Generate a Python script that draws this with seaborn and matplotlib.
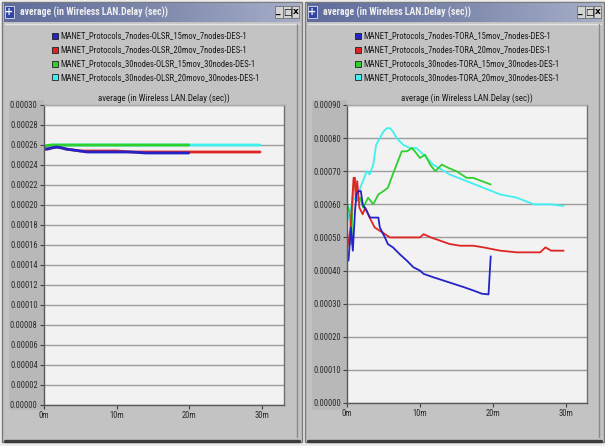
import numpy as np
import pandas as pd
import matplotlib
matplotlib.use("Agg")
import matplotlib.pyplot as plt
import seaborn as sns
from matplotlib import font_manager as fm
from matplotlib.patches import Rectangle
from matplotlib.ticker import FuncFormatter, MultipleLocator

sns.set_style("white")

# pick a narrow sans if one is installed (the OPNET screenshot font is condensed)
_fonts = [(f.name, f.stretch) for f in fm.fontManager.ttflist]
_names = {n for n, _ in _fonts}
narrow_family, narrow_stretch = "Liberation Sans", "normal"
for cand in ["Liberation Sans Narrow", "Roboto Condensed", "Open Sans Condensed"]:
    if cand in _names:
        narrow_family = cand
        break
else:
    for fam in ["Noto Sans", "DejaVu Sans", "Open Sans", "Roboto"]:
        if any(n == fam and s in ("condensed", "semi-condensed", "extra-condensed", 75, 87)
               for n, s in _fonts):
            narrow_family, narrow_stretch = fam, "condensed"
            break
plt.rcParams["font.family"] = [narrow_family, "Liberation Sans", "DejaVu Sans"]
plt.rcParams["font.stretch"] = narrow_stretch

# ---- data (time in minutes, delay in seconds) ----
win_title = "average (in Wireless LAN.Delay (sec))"
chart_title = "average (in Wireless LAN.Delay (sec))"
x_ticks = [0, 10, 20, 30]
x_tick_labels = ["0m", "10m", "20m", "30m"]

olsr_labels = [
    "MANET_Protocols_7nodes-OLSR_15mov_7nodes-DES-1",
    "MANET_Protocols_7nodes-OLSR_20mov_7nodes-DES-1",
    "MANET_Protocols_30nodes-OLSR_15mov_30nodes-DES-1",
    "MANET_Protocols_30nodes-OLSR_20movo_30nodes-DES-1",
]
tora_labels = [
    "MANET_Protocols_7nodes-TORA_15mov_7nodes-DES-1",
    "MANET_Protocols_7nodes-TORA_20mov_7nodes-DES-1",
    "MANET_Protocols_30nodes-TORA_15mov_30nodes-DES-1",
    "MANET_Protocols_30nodes-TORA_20mov_30nodes-DES-1",
]
colors = ["#2323c8", "#e02424", "#2ed02e", "#3ef0f0"]

olsr_blue_t = [0, 0.5, 1, 1.75, 2.5, 3, 4, 5, 5.9, 8, 10, 12, 14, 16, 18, 19.9]
olsr_blue_v = [0.000256, 0.000256, 0.000257, 0.000258, 0.000257, 0.000256, 0.000255,
               0.000254, 0.000253, 0.000253, 0.000253, 0.000253, 0.000252, 0.000252,
               0.000252, 0.000252]
olsr_red_t = [0, 0.5, 1, 1.75, 2.5, 3, 4, 5, 5.9, 8, 10, 12, 14, 16, 18, 20, 22, 25, 28, 29.7]
olsr_red_v = [0.000256, 0.000256, 0.000257, 0.000258, 0.000257, 0.000256, 0.000255,
              0.000254, 0.000254, 0.000254, 0.000254, 0.000253, 0.000253, 0.000253,
              0.000253, 0.000253, 0.000253, 0.000253, 0.000253, 0.000253]
olsr_green_t = [0, 1, 5, 10, 15, 19.9]
olsr_green_v = [0.000259, 0.00026, 0.00026, 0.00026, 0.00026, 0.00026]
olsr_cyan_t = [0, 1, 5, 10, 15, 20, 25, 29.7]
olsr_cyan_v = [0.000258, 0.00026, 0.00026, 0.00026, 0.00026, 0.00026, 0.00026, 0.00026]

tora_blue_t = [0.2, 0.55, 0.8, 1.1, 1.3, 1.55, 1.9, 2.15, 2.7, 3.15, 4.3, 4.5, 5.2, 5.6,
               6.3, 7.2, 8.2, 9.1, 10.0, 10.5, 11.8, 13.2, 14.6, 16.0, 17.3, 18.5, 19.4, 19.7]
tora_blue_v = [0.00043, 0.00053, 0.00046, 0.00058, 0.00063, 0.00064, 0.00064, 0.00060,
               0.00058, 0.00056, 0.00056, 0.00053, 0.00050, 0.00048, 0.00047, 0.00045,
               0.00043, 0.00041, 0.00040, 0.00039, 0.00038, 0.00037, 0.00036, 0.00035,
               0.00034, 0.00033, 0.000328, 0.000443]
tora_red_t = [0.05, 0.5, 0.9, 1.05, 1.2, 1.4, 1.7, 2.15, 2.5, 3.1, 3.8, 4.5, 5.2, 5.9, 8.0,
              10.0, 10.5, 11.5, 12.8, 14.1, 15.5, 17.3, 18.7, 21.0, 23.3, 25.6, 26.5, 27.2,
              28.0, 29.7]
tora_red_v = [0.00047, 0.00053, 0.00068, 0.00068, 0.00062, 0.00067, 0.00059, 0.00057,
              0.00059, 0.00056, 0.00053, 0.00052, 0.00051, 0.00050, 0.00050, 0.00050,
              0.00051, 0.00050, 0.00049, 0.00048, 0.000475, 0.000475, 0.00047, 0.00046,
              0.000455, 0.000455, 0.000455, 0.00047, 0.00046, 0.00046]
tora_green_t = [0.05, 0.4, 0.6, 0.8, 1.1, 1.3, 1.8, 2.2, 2.9, 3.6, 4.3, 5.0, 5.6, 6.1, 6.8,
                7.5, 8.2, 8.9, 9.3, 10.0, 10.7, 11.4, 12.1, 13.0, 13.9, 15.0, 16.4, 17.3,
                18.5, 19.7]
tora_green_v = [0.00060, 0.00057, 0.00048, 0.00064, 0.00068, 0.00061, 0.00062, 0.00059,
                0.00062, 0.00060, 0.00063, 0.00064, 0.00065, 0.00068, 0.00072, 0.00076,
                0.00076, 0.00077, 0.00076, 0.00074, 0.00075, 0.00072, 0.00070, 0.00072,
                0.00071, 0.00070, 0.00068, 0.00068, 0.00067, 0.00066]
tora_cyan_t = [0.05, 0.4, 0.9, 1.3, 1.8, 2.2, 2.7, 3.1, 3.6, 4.0, 4.5, 5.0, 5.5, 5.9, 6.3,
               6.8, 7.7, 8.6, 9.5, 10.5, 11.8, 14.1, 16.4, 18.7, 21.0, 23.3, 25.6, 27.9, 29.7]
tora_cyan_v = [0.00055, 0.00058, 0.00062, 0.00061, 0.00065, 0.00067, 0.00070, 0.00069,
               0.00072, 0.00078, 0.00080, 0.00082, 0.00083, 0.00083, 0.00082, 0.00080,
               0.00078, 0.00077, 0.00077, 0.00075, 0.00072, 0.00069, 0.00067, 0.00065,
               0.00063, 0.00062, 0.00060, 0.00060, 0.000595]


def make_frame(series):
    rows = []
    for name, t, v in series:
        rows.append(pd.DataFrame({"time": t, "delay": v, "series": name}))
    return pd.concat(rows, ignore_index=True)


olsr_df = make_frame([
    (olsr_labels[3], olsr_cyan_t, olsr_cyan_v),
    (olsr_labels[1], olsr_red_t, olsr_red_v),
    (olsr_labels[2], olsr_green_t, olsr_green_v),
    (olsr_labels[0], olsr_blue_t, olsr_blue_v),
])
tora_df = make_frame([
    (tora_labels[3], tora_cyan_t, tora_cyan_v),
    (tora_labels[2], tora_green_t, tora_green_v),
    (tora_labels[1], tora_red_t, tora_red_v),
    (tora_labels[0], tora_blue_t, tora_blue_v),
])

W, H = 605, 446
fig = plt.figure(figsize=(W / 100, H / 100), dpi=100)
fig.patch.set_facecolor("#ececec")
renderer = fig.canvas.get_renderer()


def fit_width(txt, target_px):
    # shrink/grow the font so the text spans about target_px pixels
    w = txt.get_window_extent(renderer).width
    if w > 0:
        txt.set_fontsize(txt.get_fontsize() * target_px / w)
    return txt.get_fontsize()


bg = fig.add_axes([0, 0, 1, 1], zorder=-5)
bg.set_xlim(0, W)
bg.set_ylim(H, 0)
bg.axis("off")

legend_size = None
title_size = None


def draw_window(x0, x1, ax_left, labels):
    global legend_size
    bg.add_patch(Rectangle((x0, 2), x1 - x0, 440, facecolor="#c3c3c3",
                           edgecolor="#7a7a7a", lw=1))
    grad = np.linspace(0, 1, 200).reshape(1, -1)
    bg.imshow(grad, extent=(x0 + 2, x1 - 2, 22, 3), aspect="auto",
              cmap=matplotlib.colors.LinearSegmentedColormap.from_list(
                  "tb", ["#5f6c9c", "#7d88ac", "#a6aec8"]), zorder=1)
    bg.add_patch(Rectangle((x0 + 3, 6), 9, 12, facecolor="#3346a8",
                           edgecolor="#dde", lw=0.6, zorder=2))
    bg.text(x0 + 7.5, 12, "+", color="white", fontsize=7, ha="center",
            va="center", fontweight="bold", zorder=3, family="DejaVu Sans")
    t = bg.text(x0 + 18, 12.5, win_title, color="#f0f0f0", fontsize=8,
                va="center", ha="left", zorder=3, fontweight="bold")
    fit_width(t, 148)
    for i, sym in enumerate(["_", "\u25a1", "x"]):
        bx = x1 - 27 + i * 8.3
        bg.add_patch(Rectangle((bx, 6), 7.5, 12, facecolor="#d4d4d4",
                               edgecolor="#606060", lw=0.5, zorder=2))
        bg.text(bx + 3.75, 12, sym, fontsize=6.5, ha="center", va="center",
                color="black", zorder=3, family="DejaVu Sans", fontweight="bold")
    bg.plot([x0 + 3, x1 - 3], [24, 24], color="#e6e6e6", lw=1)
    bg.plot([x1 - 5, x1 - 5], [24, 437], color="#8a8a8a", lw=1)
    bg.plot([x0 + 3, x1 - 3], [441, 441], color="#3c3c3c", lw=2.4)
    bg.add_patch(Rectangle((x0 + 7, 100), ax_left - x0 - 7, 310,
                           facecolor="#b8b8b8", edgecolor="none"))
    for k, (lab, c) in enumerate(zip(labels, colors)):
        yy = 36 + k * 13.8
        bg.add_patch(Rectangle((ax_left + 8, yy - 3), 5.5, 6, facecolor=c,
                               edgecolor="#202020", lw=0.6))
        t = bg.text(ax_left + 16, yy, lab, fontsize=8, va="center", ha="left",
                    color="#1a1a1a")
        if legend_size is None:
            legend_size = fit_width(t, 190)
        else:
            t.set_fontsize(legend_size)


draw_window(2, 302, 44, olsr_labels)
draw_window(305, 604, 347, tora_labels)

palette_olsr = dict(zip(olsr_labels, colors))
palette_tora = dict(zip(tora_labels, colors))


def style_axes(ax, ymax, ystep, xmax):
    global title_size
    ax.set_facecolor("#f2f2f2")
    ax.set_xlim(0, xmax)
    ax.set_ylim(0, ymax)
    ax.yaxis.set_major_locator(MultipleLocator(ystep))
    ax.yaxis.set_major_formatter(FuncFormatter(lambda v, p: f"{v:.5f}"))
    ax.set_xticks(x_ticks)
    ax.set_xticklabels(x_tick_labels)
    ax.grid(axis="y", color="#9c9c9c", lw=1.0)
    ax.grid(axis="x", visible=False)
    ax.set_axisbelow(True)
    ax.tick_params(axis="both", direction="out", length=3, width=0.8,
                   color="#404040", labelsize=legend_size * 0.98,
                   labelcolor="#2a2a2a", pad=1.5)
    ax.tick_params(axis="both", left=True, bottom=True)
    for s in ax.spines.values():
        s.set_color("#5a5a5a")
        s.set_linewidth(1.0)
    ax.spines["top"].set_color("#a8a8a8")
    ax.spines["right"].set_color("#707070")
    ax.set_xlabel("")
    ax.set_ylabel("")
    tt = ax.set_title(chart_title, fontsize=8, color="#1a1a1a", pad=3)
    if title_size is None:
        title_size = fit_width(tt, 133)
    else:
        tt.set_fontsize(title_size)


ax1 = fig.add_axes([44 / W, 1 - 405 / H, 240 / W, 300 / H])
sns.lineplot(data=olsr_df, x="time", y="delay", hue="series", palette=palette_olsr,
             units="series", estimator=None, sort=False, legend=False, lw=2.0, ax=ax1)
style_axes(ax1, 0.0003, 0.00002, 33.0)

ax2 = fig.add_axes([347 / W, 1 - 403 / H, 240 / W, 298 / H])
sns.lineplot(data=tora_df, x="time", y="delay", hue="series", palette=palette_tora,
             units="series", estimator=None, sort=False, legend=False, lw=1.3, ax=ax2)
style_axes(ax2, 0.0009, 0.0001, 32.9)

fig.savefig("out.png", dpi=100)
